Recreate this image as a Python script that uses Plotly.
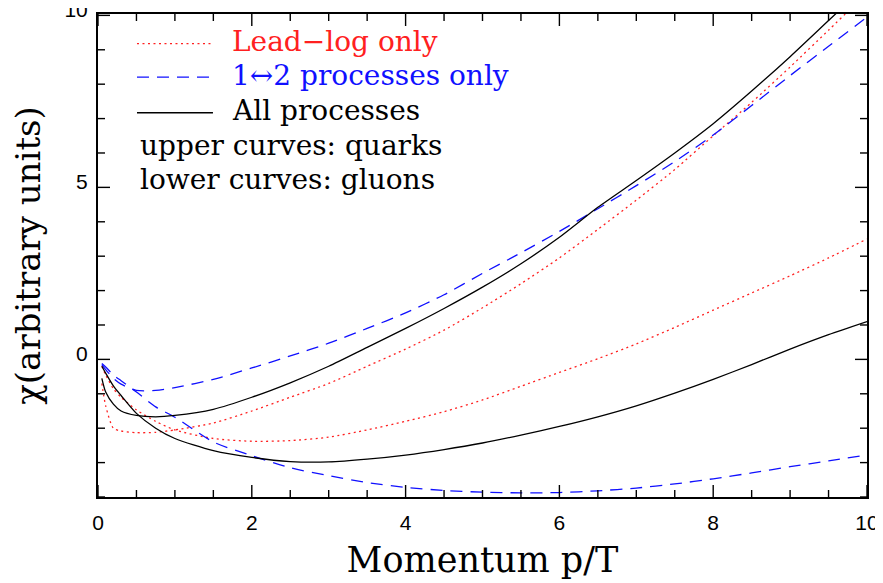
import plotly.graph_objects as go

# momentum grid p/T
p = [0.05, 0.1, 0.2, 0.3, 0.5, 0.75, 1.0, 1.5, 2.0, 2.5, 3.0, 3.5, 4.0, 4.5,
     5.0, 5.5, 6.0, 6.5, 7.0, 7.5, 8.0, 8.5, 9.0, 9.5, 10.0]

# Lead-log only
leadlog_quark = [-0.7, -1.35, -2.0, -2.08, -2.13, -2.12, -2.05, -1.85, -1.5, -1.1,
                 -0.7, -0.2, 0.3, 0.85, 1.5, 2.2, 2.95, 3.78, 4.63, 5.52, 6.5,
                 7.47, 8.5, 9.57, 10.65]
leadlog_gluon = [-0.2, -0.45, -0.85, -1.1, -1.47, -1.8, -2.05, -2.3, -2.38, -2.36,
                 -2.26, -2.05, -1.8, -1.52, -1.18, -0.78, -0.38, 0.02, 0.45, 0.93,
                 1.43, 1.93, 2.43, 2.95, 3.5]

# 1<->2 processes only
onetwo_quark = [-0.15, -0.3, -0.55, -0.72, -0.9, -0.9, -0.82, -0.58, -0.25, 0.1,
                0.47, 0.9, 1.35, 1.88, 2.5, 3.1, 3.72, 4.38, 5.05, 5.75, 6.52,
                7.38, 8.25, 9.1, 9.95]
onetwo_gluon = [-0.12, -0.22, -0.45, -0.62, -0.95, -1.38, -1.68, -2.4, -2.8, -3.15,
                -3.38, -3.58, -3.72, -3.81, -3.86, -3.88, -3.87, -3.82, -3.74,
                -3.62, -3.47, -3.3, -3.12, -2.95, -2.78]

# All processes
all_quark = [-0.55, -0.95, -1.3, -1.5, -1.63, -1.67, -1.63, -1.45, -1.1, -0.68,
             -0.2, 0.35, 0.9, 1.48, 2.1, 2.78, 3.55, 4.42, 5.2, 6.0, 6.85, 7.8,
             8.8, 9.85, 10.9]
all_gluon = [-0.2, -0.4, -0.77, -1.05, -1.57, -2.0, -2.3, -2.65, -2.85, -2.97,
             -2.98, -2.9, -2.78, -2.62, -2.43, -2.2, -1.95, -1.67, -1.35, -0.98,
             -0.58, -0.15, 0.3, 0.72, 1.1]

x_major = [0, 2, 4, 6, 8, 10]
x_minor_step = 0.5
y_major = [0, 5, 10]
y_minor_step = 1
x_range = [0, 10]
y_range = [-4, 10.04]

legend_labels = ["Lead−log only", "1↔2 processes only", "All processes"]
note_labels = ["upper curves: quarks", "lower curves: gluons"]

RED = "#ff2020"
BLUE = "#1010ff"
BLACK = "#000000"
DOT = "2px,3.5px"
DASH = "12px,8px"

W, H = 875, 575
ML, MR, MT, MB = 90, 16, 6, 86

styles = [(RED, DOT), (BLUE, DASH), (BLACK, "solid")]
series = [(leadlog_quark, leadlog_gluon), (onetwo_quark, onetwo_gluon),
          (all_quark, all_gluon)]

fig = go.Figure()
for (col, dash), (q, g) in zip(styles, series):
    for ys in (q, g):
        fig.add_trace(go.Scatter(x=p, y=ys, mode="lines",
                                 line=dict(color=col, width=1.3, dash=dash,
                                           shape="spline", smoothing=0.7),
                                 showlegend=False, hoverinfo="skip"))

# inward tick marks on all four sides (axis decoration), one line trace
def tick_positions(lo, hi, step):
    n = int((hi - lo) / step + 1e-9)
    return [lo + i * step for i in range(n + 1)]

x_per_px = (x_range[1] - x_range[0]) / (W - ML - MR)
y_per_px = (y_range[1] - y_range[0]) / (H - MT - MB)
tx, ty = [], []
for xv in tick_positions(x_range[0], x_range[1], x_minor_step):
    ln = (12 if any(abs(xv - m) < 1e-9 for m in x_major) else 7) * y_per_px
    tx += [xv, xv, None, xv, xv, None]
    ty += [y_range[0], y_range[0] + ln, None, y_range[1], y_range[1] - ln, None]
for yv in tick_positions(y_range[0], y_range[1], y_minor_step):
    ln = (12 if any(abs(yv - m) < 1e-9 for m in y_major) else 7) * x_per_px
    tx += [x_range[0], x_range[0] + ln, None, x_range[1], x_range[1] - ln, None]
    ty += [yv, yv, None, yv, yv, None]
fig.add_trace(go.Scatter(x=tx, y=ty, mode="lines", connectgaps=False,
                         line=dict(color="black", width=1.4),
                         showlegend=False, hoverinfo="skip"))

TXT_FONT = "DejaVu Serif"

# legend keys (paper coordinates)
key_y = [0.9387, 0.8691, 0.7955]
for (col, dash), ky, lab in zip(styles, key_y, legend_labels):
    fig.add_shape(type="line", xref="paper", yref="paper",
                  x0=0.0507, x1=0.1495, y0=ky, y1=ky,
                  line=dict(color=col, width=1.3, dash=dash))
    fig.add_annotation(xref="paper", yref="paper", x=0.1716, y=ky + 0.004,
                       text=lab, showarrow=False, xanchor="left", yanchor="middle",
                       font=dict(family=TXT_FONT, size=28, color=col))
for ny, lab in zip([0.7239, 0.6524], note_labels):
    fig.add_annotation(xref="paper", yref="paper", x=0.052, y=ny + 0.004,
                       text=lab, showarrow=False, xanchor="left", yanchor="middle",
                       font=dict(family=TXT_FONT, size=28, color=BLACK))

fig.update_xaxes(range=x_range, tickmode="array", tickvals=x_major,
                 showgrid=False, zeroline=False, showline=True, linecolor="black",
                 linewidth=2, mirror=True, ticks="", ticklabeloverflow="allow",
                 automargin=False,
                 tickfont=dict(family="Liberation Sans", size=21, color="black"),
                 ticklabelstandoff=6,
                 title=dict(text="Momentum p/T", standoff=14,
                            font=dict(family=TXT_FONT, size=35, color="black")))
fig.update_yaxes(range=y_range, tickmode="array", tickvals=y_major,
                 showgrid=False, zeroline=False, showline=True, linecolor="black",
                 linewidth=2, mirror=True, ticks="", ticklabeloverflow="allow",
                 automargin=False,
                 tickfont=dict(family="Liberation Sans", size=21, color="black"),
                 ticklabelstandoff=4, ticklabelshift=-6,
                 title=dict(text="χ(arbitrary units)", standoff=50,
                            font=dict(family=TXT_FONT, size=34, color="black")))

fig.update_layout(width=W, height=H, plot_bgcolor="white", paper_bgcolor="white",
                  margin=dict(l=ML, r=MR, t=MT, b=MB), showlegend=False)

fig.write_html("out.html")
